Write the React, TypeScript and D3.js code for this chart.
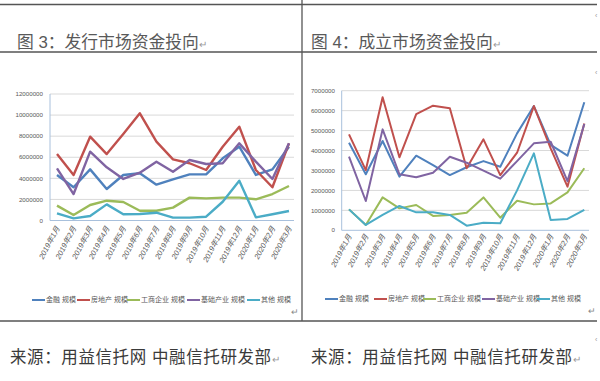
import React from 'react';
import * as d3 from 'd3';

const months = ['2019年1月','2019年2月','2019年3月','2019年4月','2019年5月','2019年6月','2019年7月','2019年8月','2019年9月','2019年10月','2019年11月','2019年12月','2020年1月','2020年2月','2020年3月'];
const seriesNames = ['金融 规模','房地产 规模','工商企业 规模','基础产业 规模','其他 规模'];
const seriesColors = ['#4F81BD','#C0504D','#9BBB59','#8064A2','#4BACC6'];

// 图3 发行市场
const issueFinance = [4320000, 3150000, 4850000, 2990000, 4320000, 4480000, 3400000, 3900000, 4380000, 4380000, 5900000, 7000000, 4320000, 4850000, 7000000];
const issueRealEstate = [6300000, 4320000, 7950000, 6300000, 8200000, 10170000, 7480000, 5800000, 5430000, 4790000, 7000000, 8900000, 4790000, 3150000, 7320000];
const issueIndustrial = [1410000, 520000, 1470000, 1880000, 1750000, 930000, 930000, 1220000, 2170000, 2100000, 2170000, 2170000, 2010000, 2510000, 3270000];
const issueInfra = [4950000, 2510000, 6530000, 5050000, 3940000, 4540000, 5580000, 4630000, 5740000, 5360000, 5430000, 7320000, 5580000, 3940000, 7320000];
const issueOther = [680000, 200000, 430000, 1530000, 590000, 620000, 740000, 270000, 270000, 360000, 1780000, 3780000, 300000, 590000, 900000];
const issueTicks = [0, 2000000, 4000000, 6000000, 8000000, 10000000, 12000000];

// 图4 成立市场
const estFinance = [4390000, 2810000, 4480000, 2690000, 3740000, 3270000, 2770000, 3160000, 3470000, 3190000, 4860000, 6230000, 4280000, 3740000, 6420000];
const estRealEstate = [4810000, 3020000, 6670000, 3660000, 5820000, 6250000, 6120000, 3110000, 4560000, 2770000, 3890000, 6230000, 4110000, 2190000, 5360000];
const estIndustrial = [1050000, 270000, 1650000, 1100000, 1270000, 720000, 770000, 880000, 1650000, 630000, 1480000, 1300000, 1350000, 1900000, 3110000];
const estInfra = [3690000, 1470000, 5060000, 2810000, 2660000, 2890000, 3690000, 3390000, 2990000, 2590000, 3470000, 4360000, 4440000, 2470000, 5330000];
const estOther = [1050000, 270000, 770000, 1220000, 900000, 900000, 770000, 230000, 380000, 350000, 2000000, 3860000, 520000, 570000, 1020000];
const estTicks = [0, 1000000, 2000000, 3000000, 4000000, 5000000, 6000000, 7000000];

const titles = ['图 3：发行市场资金投向', '图 4：成立市场资金投向'];
const sourceText = '来源：用益信托网  中融信托研发部';

const CJK = '"Liberation Sans", "Noto Sans CJK SC", sans-serif';

type ChartProps = {
  series: number[][];
  ticks: number[];
  xRange: [number, number];
  gridX: [number, number];
  yRange: [number, number];
  labelRight: number;
  xLabelTop: number;
  legendY: number;
  legendX: number[];
  lineWidth: number;
};

function LineChart(p: ChartProps) {
  const x = d3.scalePoint<string>().domain(months).range(p.xRange);
  const y = d3.scaleLinear().domain([0, p.ticks[p.ticks.length - 1]]).range(p.yRange);
  const line = d3.line<number>().x((_, i) => x(months[i]) as number).y(d => y(d));
  return (
    <g>
      {p.ticks.map(t => (
        <g key={t}>
          {t > 0 && <line x1={p.gridX[0]} x2={p.gridX[1]} y1={y(t)} y2={y(t)} stroke="#d9d9d9" strokeWidth={1} />}
          <text x={p.labelRight} y={y(t)} dy="0.35em" textAnchor="end" fontSize={6.2} fill="#595959" fontFamily={CJK}>{t}</text>
        </g>
      ))}
      <line x1={p.gridX[0]} x2={p.gridX[0]} y1={p.yRange[1]} y2={p.yRange[0]} stroke="#a8c0dc" strokeWidth={1} />
      <line x1={p.gridX[0]} x2={p.gridX[1]} y1={p.yRange[0]} y2={p.yRange[0]} stroke="#a8c0dc" strokeWidth={1} />
      {months.map(m => (
        <text key={m} transform={`translate(${(x(m) as number) + 3},${p.xLabelTop}) rotate(-62)`} textAnchor="end" fontSize={7.5} fontStyle="italic" fill="#595959" fontFamily={CJK}>{m}</text>
      ))}
      {p.series.map((s, i) => (
        <path key={i} d={line(s) || ''} fill="none" stroke={seriesColors[i]} strokeWidth={p.lineWidth} strokeLinejoin="round" />
      ))}
      {seriesNames.map((n, i) => (
        <g key={n}>
          <line x1={p.legendX[i]} x2={p.legendX[i] + 13} y1={p.legendY} y2={p.legendY} stroke={seriesColors[i]} strokeWidth={2} />
          <text x={p.legendX[i] + 14} y={p.legendY} dy="0.35em" fontSize={7} fill="#595959" fontFamily={CJK}>{n}</text>
        </g>
      ))}
    </g>
  );
}

export default function App() {
  return (
    <div style={{ position: 'absolute', left: 0, top: 0 }}>
      <svg width={600} height={381} style={{ display: 'block', background: '#fff' }}>
        <rect width={600} height={381} fill="#fff" />
        <line x1={0} x2={597} y1={4.5} y2={4.5} stroke="#555" strokeWidth={1.3} />
        <line x1={0} x2={597} y1={52} y2={52} stroke="#555" strokeWidth={1.3} />
        <line x1={0} x2={597} y1={321} y2={321} stroke="#555" strokeWidth={1.3} />
        <line x1={302} x2={302} y1={0} y2={321} stroke="#555" strokeWidth={1.3} />
        <text x={17} y={48} fontSize={16.8} fill="#595959" fontFamily={CJK}>{titles[0]}<tspan fontSize={10} fill="#999">↵</tspan></text>
        <text x={311} y={48} fontSize={16.8} fill="#595959" fontFamily={CJK}>{titles[1]}<tspan fontSize={10} fill="#999">↵</tspan></text>
        <LineChart
          series={[issueFinance, issueRealEstate, issueIndustrial, issueInfra, issueOther]}
          ticks={issueTicks}
          xRange={[57, 289]}
          gridX={[50, 294]}
          yRange={[220.5, 94]}
          labelRight={43}
          xLabelTop={228}
          legendY={300}
          legendX={[32, 77, 127, 187, 247]}
          lineWidth={2.4}
        />
        <LineChart
          series={[estFinance, estRealEstate, estIndustrial, estInfra, estOther]}
          ticks={estTicks}
          xRange={[349, 584.3]}
          gridX={[341.7, 589]}
          yRange={[230.3, 90.7]}
          labelRight={335}
          xLabelTop={236}
          legendY={299}
          legendX={[325, 374, 423, 482, 537]}
          lineWidth={2}
        />
        <text x={291} y={315} fontSize={9} fill="#888" fontFamily={CJK}>↵</text>
        <text x={588} y={314} fontSize={9} fill="#888" fontFamily={CJK}>↵</text>
        <text x={595} y={18} fontSize={7} fill="#999" fontFamily={CJK}>‹</text>
        <text x={595} y={75} fontSize={7} fill="#999" fontFamily={CJK}>‹</text>
        <text x={595} y={342} fontSize={7} fill="#999" fontFamily={CJK}>‹</text>
        <text x={10} y={363} fontSize={16.5} letterSpacing={0.6} fill="#3a3a3a" fontFamily={CJK}>{sourceText}<tspan fontSize={10} fill="#999">↵</tspan></text>
        <text x={311} y={363} fontSize={16.5} letterSpacing={0.6} fill="#3a3a3a" fontFamily={CJK}>{sourceText}<tspan fontSize={10} fill="#999">↵</tspan></text>
      </svg>
    </div>
  );
}
